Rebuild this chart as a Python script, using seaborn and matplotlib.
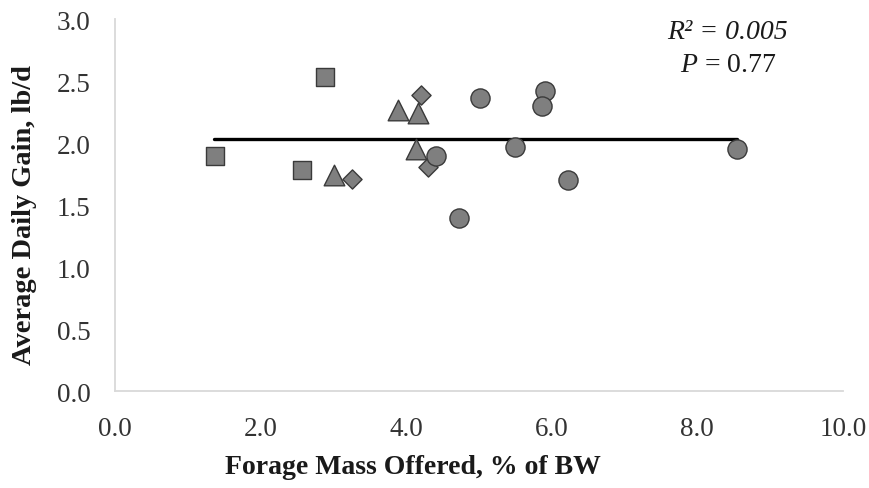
import numpy as np
import pandas as pd
import matplotlib
matplotlib.use("Agg")
import matplotlib.pyplot as plt
import seaborn as sns

# Data
square_x = [1.38, 2.89, 2.57]
square_y = [1.90, 2.53, 1.78]
triangle_x = [3.01, 3.89, 4.16, 4.13]
triangle_y = [1.74, 2.27, 2.24, 1.95]
diamond_x = [3.26, 4.20, 4.30]
diamond_y = [1.71, 2.39, 1.81]
circle_x = [4.41, 4.73, 5.01, 5.91, 5.87, 5.49, 6.23, 8.54]
circle_y = [1.90, 1.40, 2.36, 2.42, 2.30, 1.97, 1.70, 1.95]
trend_x = [1.36, 8.54]
trend_y = [2.03, 2.03]
x_ticks = [0.0, 2.0, 4.0, 6.0, 8.0, 10.0]
y_ticks = [0.0, 0.5, 1.0, 1.5, 2.0, 2.5, 3.0]

sns.set_theme(style="white")
plt.rcParams["font.family"] = ["Liberation Serif", "DejaVu Serif"]
plt.rcParams["mathtext.fontset"] = "custom"
plt.rcParams["mathtext.rm"] = "Liberation Serif"
plt.rcParams["mathtext.it"] = "Liberation Serif:italic"

fig = plt.figure(figsize=(8.69, 4.89), dpi=100)
ax = fig.add_axes([0.1323, 0.1977, 0.8377, 0.7613])

sns.lineplot(x=trend_x, y=trend_y, ax=ax, color="black", linewidth=2.4, zorder=2)

groups = [
    (square_x, square_y, "s", 185),
    (triangle_x, triangle_y, "^", 220),
    (diamond_x, diamond_y, "D", 95),
    (circle_x, circle_y, "o", 190),
]
for gx, gy, mk, sz in groups:
    sns.scatterplot(x=gx, y=gy, ax=ax, marker=mk, s=sz, color="#7f7f7f",
                    edgecolor="#3a3a3a", linewidth=1.0, zorder=3)

ax.set_xlim(0, 10)
ax.set_ylim(0, 3)
ax.set_xticks(x_ticks)
ax.set_xticklabels([f"{v:.1f}" for v in x_ticks])
ax.set_yticks(y_ticks)
ax.set_yticklabels([f"{v:.1f}" for v in y_ticks])
ax.tick_params(axis="both", length=0, labelsize=19.5, colors="#333333")
ax.tick_params(axis="x", pad=18)
ax.tick_params(axis="y", pad=17.5)
for s in ["top", "right"]:
    ax.spines[s].set_visible(False)
for s in ["left", "bottom"]:
    ax.spines[s].set_color("#d9d9d9")
    ax.spines[s].set_linewidth(1.3)

ax.set_xlabel("Forage Mass Offered, % of BW", fontsize=20, fontweight="bold",
              color="#1a1a1a")
ax.set_ylabel("Average Daily Gain, lb/d", fontsize=20.5, fontweight="bold",
              color="#1a1a1a")
ax.xaxis.set_label_coords(0.409, -0.203)
ax.xaxis.label.set_va("center")
ax.yaxis.set_label_coords(-0.1236, 0.476)
ax.yaxis.label.set_va("center")

ax.text(8.42, 2.90, "R² = 0.005", fontsize=20, fontstyle="italic",
        ha="center", va="center", color="#1a1a1a")
ax.text(8.42, 2.635, r"$P$ = 0.77", fontsize=20,
        ha="center", va="center", color="#1a1a1a")

fig.savefig("out.png", dpi=100)
